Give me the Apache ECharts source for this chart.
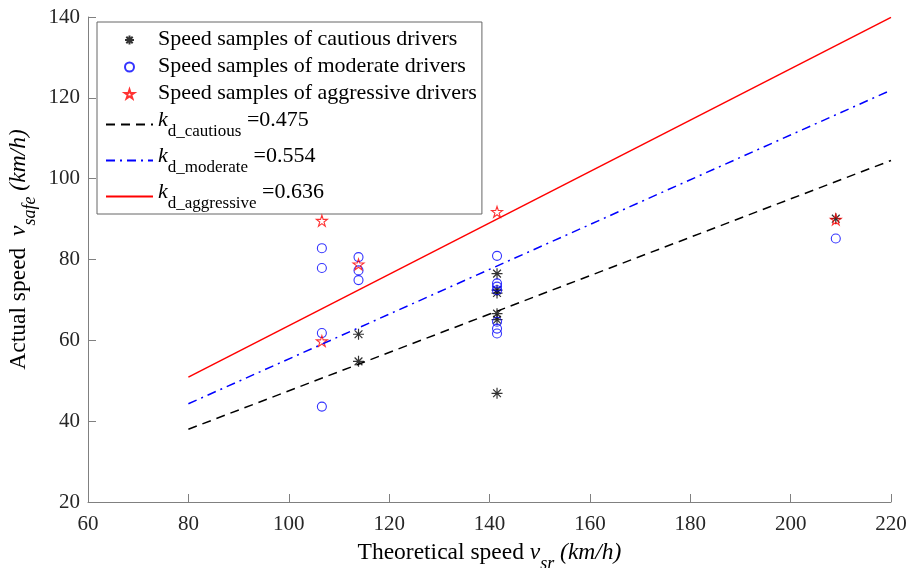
<!DOCTYPE html>
<html><head><meta charset="utf-8">
<script src="https://cdn.jsdelivr.net/npm/echarts@6/dist/echarts.min.js"></script>
<style>html,body{margin:0;padding:0;background:#fff}#c{width:909px;height:568px}</style>
</head><body><div id="c"></div>
<script>
// Sample points [theoretical speed, actual speed]
const cautiousSamples = [
  [113.9, 61.5], [113.9, 54.8],
  [141.5, 76.5], [141.5, 72.4], [141.5, 71.7], [141.5, 66.6], [141.5, 65.1], [141.5, 46.9],
  [209.0, 90.1]
];
const moderateSamples = [
  [106.6, 82.8], [106.6, 77.9], [106.6, 61.8], [106.6, 43.6],
  [113.9, 80.6], [113.9, 77.3], [113.9, 74.9],
  [141.5, 80.9], [141.5, 74.1], [141.5, 73.3], [141.5, 72.4], [141.5, 64.6], [141.5, 62.9], [141.5, 61.7],
  [209.0, 85.2]
];
const aggressiveSamples = [
  [106.6, 89.6], [106.6, 59.8], [113.9, 78.8], [141.5, 91.8], [209.0, 89.9]
];
// Fitted lines (endpoints)
const fitX = [80, 220];
const cautiousFit = [38.0, 104.5];
const moderateFit = [44.3, 121.9];
const aggressiveFit = [50.9, 139.9];

const seriesNames = [
  'Speed samples of cautious drivers',
  'Speed samples of moderate drivers',
  'Speed samples of aggressive drivers',
  'k_d_cautious =0.475',
  'k_d_moderate =0.554',
  'k_d_aggressive =0.636'
];
const kSubs = ['d_cautious', 'd_moderate', 'd_aggressive'];
const kValues = ['0.475', '0.554', '0.636'];

const FONT = "'Liberation Serif', 'Times New Roman', serif";
const asteriskPath = 'path://M0,-10L0,10M-10,0L10,0M-7.07,-7.07L7.07,7.07M-7.07,7.07L7.07,-7.07';
const starPath = 'path://M0,-100L22.45,-30.9L95.1,-30.9L36.3,11.8L58.8,80.9L0,38.2L-58.8,80.9L-36.3,11.8L-95.1,-30.9L-22.45,-30.9Z';

const chart = echarts.init(document.getElementById('c'), null, {renderer: 'canvas'});

const legendRich = {
  t: {fontFamily: FONT, fontSize: 22, lineHeight: 24, verticalAlign: 'top', color: '#000'},
  k: {fontFamily: FONT, fontSize: 22, lineHeight: 24, verticalAlign: 'top', fontStyle: 'italic', color: '#000'},
  s: {fontFamily: FONT, fontSize: 17, verticalAlign: 'top', padding: [14, 0, 0, 0], color: '#000'}
};

function nameRich(size, subSize) {
  return {
    t: {fontFamily: FONT, fontSize: size, lineHeight: 26, verticalAlign: 'top', color: '#000'},
    v: {fontFamily: FONT, fontSize: size, lineHeight: 26, verticalAlign: 'top', fontStyle: 'italic', color: '#000'},
    s: {fontFamily: FONT, fontSize: subSize, verticalAlign: 'top', fontStyle: 'italic', padding: [14, 0, 0, 0], color: '#000'},
    u: {fontFamily: FONT, fontSize: size, lineHeight: 26, verticalAlign: 'top', fontStyle: 'italic', color: '#000'}
  };
}

function lineData(ys) { return fitX.map((x, i) => [x, ys[i]]); }

const option = {
  animation: false,
  backgroundColor: '#fff',
  grid: {left: 88, right: 18, top: 17, bottom: 66, containLabel: false, outerBoundsMode: 'none'},
  xAxis: {
    type: 'value', min: 60, max: 220, interval: 20,
    name: '{t|Theoretical speed }{v|v}{s|sr}{u| (km/h)}',
    nameLocation: 'middle', nameGap: 39,
    nameTextStyle: {rich: nameRich(23.5, 18)},
    axisLine: {lineStyle: {color: '#808080', width: 1}},
    axisTick: {inside: true, length: 8, lineStyle: {color: '#808080'}},
    axisLabel: {fontFamily: FONT, fontSize: 21, color: '#262626', margin: 12},
    splitLine: {show: false}
  },
  yAxis: {
    type: 'value', min: 20, max: 140, interval: 20,
    name: '{t|Actual speed  }{v|v}{s|safe}{u| (km/h)}',
    nameLocation: 'middle', nameGap: 49, nameMoveOverlap: false,
    nameTextStyle: {
      padding: [0, 0, 0, 20],
      rich: nameRich(23.5, 18)
    },
    axisLine: {show: true, lineStyle: {color: '#808080', width: 1}},
    axisTick: {show: true, inside: true, length: 8, lineStyle: {color: '#808080'}},
    axisLabel: {fontFamily: FONT, fontSize: 21, color: '#262626', margin: 8},
    splitLine: {show: false}
  },
  legend: {
    orient: 'vertical', left: 97, top: 22,
    padding: [6, 5, 2, 8],
    itemWidth: 47, itemHeight: 9, itemGap: 5,
    borderColor: '#666', borderWidth: 1, backgroundColor: '#fff',
    selectedMode: false,
    data: [
      {name: seriesNames[0]}, {name: seriesNames[1]}, {name: seriesNames[2]},
      {name: seriesNames[3], itemStyle: {opacity: 0}},
      {name: seriesNames[4], itemStyle: {opacity: 0}},
      {name: seriesNames[5], itemStyle: {opacity: 0}}
    ],
    formatter: function (name) {
      const i = seriesNames.indexOf(name);
      if (i < 3) return '{t|' + name + '}';
      return '{k|k}{s|' + kSubs[i - 3] + '}{t| =' + kValues[i - 3] + '}';
    },
    textStyle: {fontFamily: FONT, fontSize: 22, color: '#000', rich: legendRich}
  },
  series: [
    {
      name: seriesNames[0], type: 'scatter', data: cautiousSamples,
      symbol: asteriskPath, symbolSize: 11,
      itemStyle: {color: 'rgba(0,0,0,0)', borderColor: '#000', borderWidth: 1.2}, z: 3
    },
    {
      name: seriesNames[1], type: 'scatter', data: moderateSamples,
      symbol: 'circle', symbolSize: 9,
      itemStyle: {color: 'rgba(0,0,0,0)', borderColor: '#0000ff', borderWidth: 1.1}, z: 4
    },
    {
      name: seriesNames[2], type: 'scatter', data: aggressiveSamples,
      symbol: starPath, symbolSize: 11,
      itemStyle: {color: 'rgba(0,0,0,0)', borderColor: '#ff0000', borderWidth: 1.1}, z: 5
    },
    {
      name: seriesNames[3], type: 'line', data: lineData(cautiousFit), symbol: 'none',
      lineStyle: {color: '#000', width: 1.5, type: [9, 6]}, itemStyle: {color: '#000'}, z: 6
    },
    {
      name: seriesNames[4], type: 'line', data: lineData(moderateFit), symbol: 'none',
      lineStyle: {color: '#0000ff', width: 1.5, type: [9, 5, 2, 5]}, itemStyle: {color: '#0000ff'}, z: 6
    },
    {
      name: seriesNames[5], type: 'line', data: lineData(aggressiveFit), symbol: 'none',
      lineStyle: {color: '#ff0000', width: 1.5, type: 'solid'}, itemStyle: {color: '#ff0000'}, z: 6
    }
  ]
};
chart.setOption(option);
</script>
</body></html>
